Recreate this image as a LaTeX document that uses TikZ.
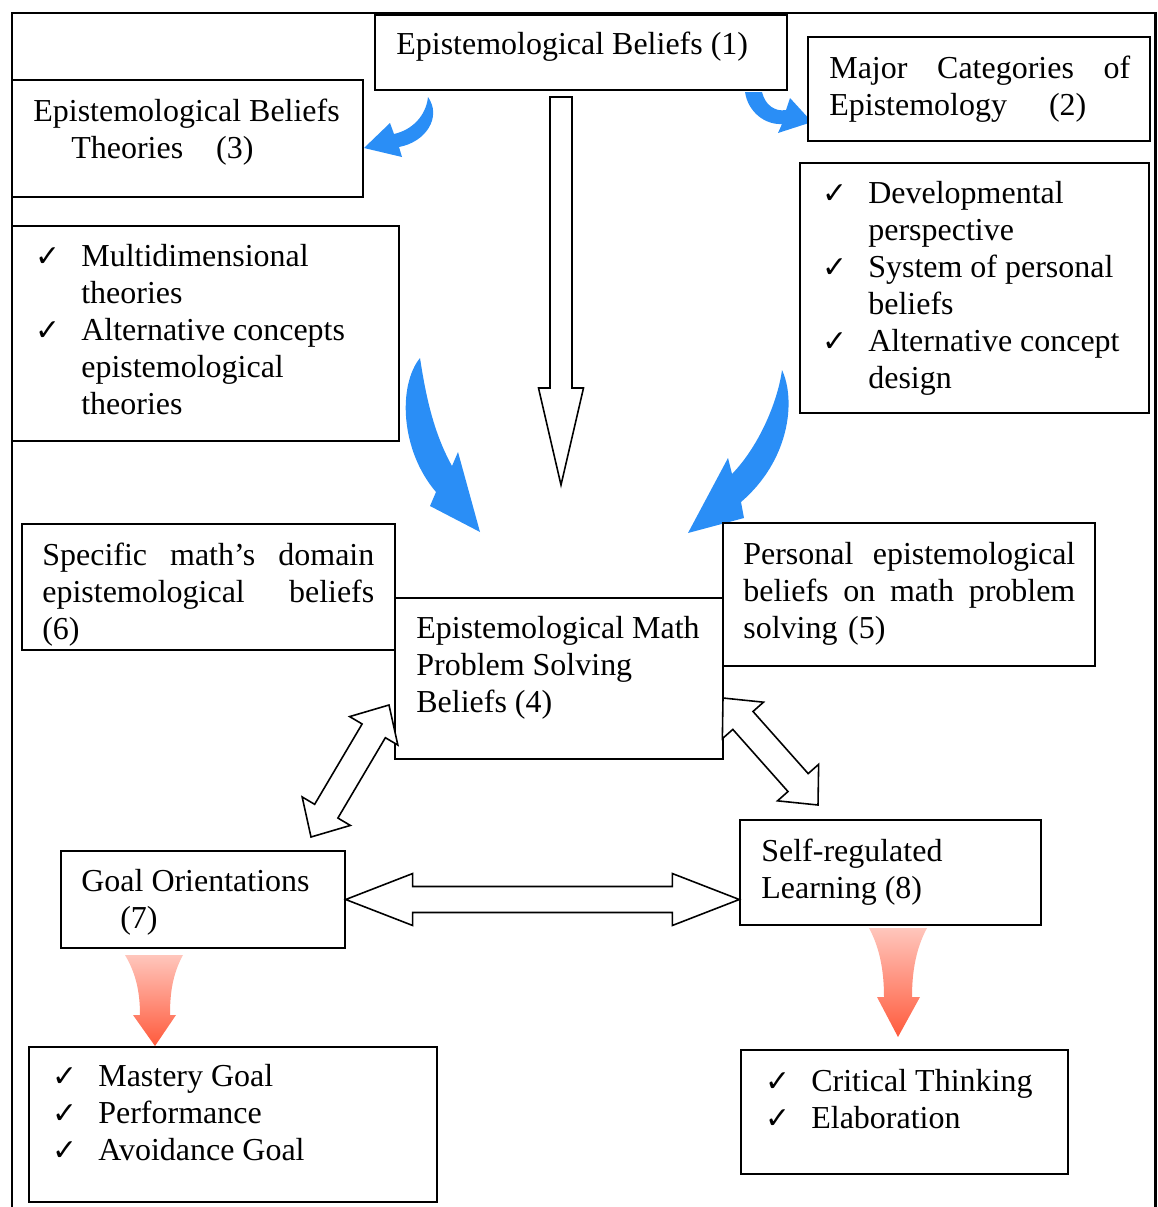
\documentclass[tikz,border=0pt]{standalone}
\usepackage{fontspec}
\setmainfont{Liberation Serif}
\newfontfamily\checkfont{DejaVu Sans}
\usetikzlibrary{calc,fit}

\definecolor{arrowblue}{RGB}{42,142,246}
\definecolor{pinktop}{RGB}{255,198,188}
\definecolor{redbottom}{RGB}{255,90,60}

\newcommand{\ck}{\makebox[0.92cm][l]{\checkfont\fontsize{17}{21}\selectfont ✓}}
\newcommand{\ckgap}{\hspace*{0.92cm}}
\newcommand{\gap}{\hskip 0pt plus 1filll\relax}

% hollow block arrows: from, to, head length, head half width, shaft half width
\newcommand{\dblarrow}[5]{%
  \draw[hollow] (#1)
    -- ($(#1)!#3!(#2)!#4!90:(#2)$) -- ($(#1)!#3!(#2)!#5!90:(#2)$)
    -- ($(#2)!#3!(#1)!#5!-90:(#1)$) -- ($(#2)!#3!(#1)!#4!-90:(#1)$)
    -- (#2)
    -- ($(#2)!#3!(#1)!#4!90:(#1)$) -- ($(#2)!#3!(#1)!#5!90:(#1)$)
    -- ($(#1)!#3!(#2)!#5!-90:(#2)$) -- ($(#1)!#3!(#2)!#4!-90:(#2)$)
    -- cycle;}
\newcommand{\onearrow}[5]{%
  \draw[hollow] ($(#1)!#5!90:(#2)$)
    -- ($(#2)!#3!(#1)!#5!-90:(#1)$) -- ($(#2)!#3!(#1)!#4!-90:(#1)$)
    -- (#2)
    -- ($(#2)!#3!(#1)!#4!90:(#1)$) -- ($(#2)!#3!(#1)!#5!90:(#1)$)
    -- ($(#1)!#5!-90:(#2)$) -- cycle;}

\tikzset{
  box/.style={draw, fill=white, line width=0.8pt, inner sep=0pt},
  txt/.style={anchor=north west, inner sep=0pt, align=left, font=\fontsize{18.2}{21}\selectfont},
  hollow/.style={draw, fill=white, line width=0.9pt, line join=miter},
  bluearrow/.style={fill=arrowblue},
  redarrow/.style={top color=pinktop, bottom color=redbottom},
}

\begin{document}
\begin{tikzpicture}[x=0.02cm, y=-0.02cm]
  \useasboundingbox (0,0) rectangle (1157,1207);

  % curved blue arrows
  \fill[bluearrow] (428,97) .. controls (442,117) and (426,142) .. (399,147) -- (402,157) -- (364,148) -- (390,123) -- (394,134) .. controls (412,130) and (426,116) .. cycle;
  \fill[bluearrow] (745,92) .. controls (748,112) and (765,125) .. (782,124) -- (778,133) -- (812,122) -- (790,98) -- (786,110) .. controls (775,112) and (765,105) .. (762,92) -- cycle;
  \fill[bluearrow] (420,358) .. controls (398,385) and (400,450) .. (436,492) -- (430,506) -- (480,532) -- (458,452) -- (452,466) .. controls (432,430) and (425,390) .. cycle;
  \fill[bluearrow] (782,370) .. controls (796,400) and (790,460) .. (741,502) -- (744,518) -- (688,533) -- (728,458) -- (732,474) .. controls (760,445) and (778,400) .. cycle;

  % boxes
  \node[box, fit={(375,15) (787,90)}] (beliefs) {};
  \node[txt] (beliefsT) at (396,32) {Epistemological Beliefs (1)};

  \node[box, fit={(808,37) (1150,141)}] (major) {};
  \node[txt, text width=6.02cm] (majorT) at (829,56) {Major\gap Categories\gap of\\Epistemology\hspace{0.84cm}(2)};

  \node[box, fit={(12,80) (363,197)}] (theories) {};
  \node[txt] (theoriesT) at (33,99) {Epistemological Beliefs\\\hspace*{0.76cm}Theories\hspace{0.66cm}(3)};

  \node[box, fit={(12,226) (399,441)}] (multi) {};
  \node[txt] (multiT) at (35,244) {\ck Multidimensional\\\ckgap theories\\\ck Alternative concepts\\\ckgap epistemological\\\ckgap theories};

  \node[box, fit={(800,163) (1149,413)}] (develop) {};
  \node[txt] (developT) at (822,181) {\ck Developmental\\\ckgap perspective\\\ck System of personal\\\ckgap beliefs\\\ck Alternative concept\\\ckgap design};

  \node[box, fit={(22,524) (395,650)}] (specific) {};
  \node[txt, text width=6.64cm] (specificT) at (42,543) {Specific\gap math’s\gap domain\\epistemological\gap beliefs\\(6)};

  \node[box, fit={(395,598) (723,759)}] (mathps) {};
  \node[txt] (mathpsT) at (416,616) {Epistemological Math\\Problem Solving\\Beliefs (4)};

  \node[box, fit={(723,523) (1095,666)}] (personal) {};
  \node[txt, text width=6.64cm] (personalT) at (743,542) {Personal\gap epistemological\\beliefs\gap on\gap math\gap problem\\solving (5)};

  \node[box, fit={(61,851) (345,948)}] (goal) {};
  \node[txt] (goalT) at (81,869) {Goal Orientations\\\hspace*{0.78cm}(7)};

  \node[box, fit={(740,820) (1041,925)}] (selfreg) {};
  \node[txt] (selfregT) at (761,839) {Self-regulated\\Learning (8)};

  \node[box, fit={(29,1047) (437,1202)}] (mastery) {};
  \node[txt] (masteryT) at (52,1064) {\ck Mastery Goal\\\ck Performance\\\ck Avoidance Goal};

  \node[box, fit={(741,1050) (1068,1174)}] (critical) {};
  \node[txt] (criticalT) at (765,1069) {\ck Critical Thinking\\\ck Elaboration};

  % outer frame
  \draw[line width=1.7pt] (12,1207) -- (12,13) -- (1155,13) -- (1155,1207);

  % hollow arrows
  \coordinate (v1) at (561,97);
  \coordinate (v2) at (561,485);
  \onearrow{v1}{v2}{1.94cm}{0.45cm}{0.22cm}

  \coordinate (g1) at (389,705);
  \coordinate (g2) at (311,837);
  \dblarrow{g1}{g2}{0.6cm}{0.56cm}{0.27cm}

  \coordinate (h1) at (723,698);
  \coordinate (h2) at (818,805);
  \dblarrow{h1}{h2}{0.6cm}{0.55cm}{0.27cm}

  \dblarrow{goal.east}{selfreg.west |- goal.east}{1.34cm}{0.52cm}{0.26cm}

  % red arrows
  \shade[redarrow] (125,955) -- (183,955) .. controls (172,975) and (170,995) .. (170,1015) -- (176,1015) -- (155,1046) -- (133,1015) -- (140,1015) .. controls (140,995) and (137,975) .. cycle;
  \shade[redarrow] (869,928) -- (927,928) .. controls (915,950) and (912,975) .. (912,997) -- (920,997) -- (898,1037) -- (877,997) -- (884,997) .. controls (884,975) and (881,950) .. cycle;
\end{tikzpicture}
\end{document}
